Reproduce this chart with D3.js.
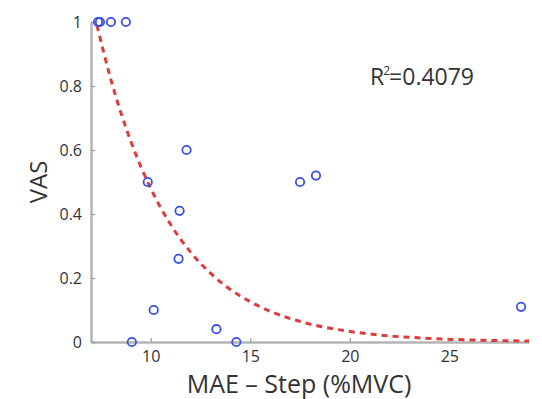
<!DOCTYPE html>
<html>
<head>
<meta charset="utf-8">
<script src="https://cdn.jsdelivr.net/npm/d3@7"></script>
<style>
  html, body { margin: 0; padding: 0; background: #fff; }
  svg { display: block; }
  text { font-family: "Open Sans", "Liberation Sans", sans-serif; }
</style>
</head>
<body>
<svg id="chart" width="542" height="399"></svg>
<script>
// Scatter data (MAE – Step %MVC vs VAS)
const maeValues = [7.35, 7.45, 8.0, 8.75, 11.8, 9.85, 11.45, 11.4, 10.15, 9.05, 13.3, 14.3, 17.5, 18.3, 28.6];
const vasValues = [1.0, 1.0, 1.0, 1.0, 0.6, 0.5, 0.41, 0.26, 0.10, 0.0, 0.04, 0.0, 0.5, 0.52, 0.11];

// Fitted curve
const fitX = [7.3, 8, 9, 10, 11, 12, 13, 14, 15, 16, 17, 18, 20, 22, 24, 26, 29];
const fitY = [0.99, 0.82, 0.627, 0.48, 0.367, 0.281, 0.215, 0.164, 0.126, 0.096, 0.0735, 0.056, 0.033, 0.019, 0.0113, 0.0066, 0.003];

const xTicks = [10, 15, 20, 25];
const yTicks = [0, 0.2, 0.4, 0.6, 0.8, 1];
const yTickLabels = ["0", "0.2", "0.4", "0.6", "0.8", "1"];
const r2Label = "0.4079";

const svg = d3.select("#chart");
const x = d3.scaleLinear().domain([7, 29]).range([91, 529]);
const y = d3.scaleLinear().domain([0, 1]).range([342, 22]);

const axisColor = "#b4b4b4";
const textColor = "#333333";

// Axes
const xAxis = svg.append("g").attr("transform", `translate(0,${y(0)})`)
  .call(d3.axisBottom(x).tickValues(xTicks).tickSizeInner(-4).tickSizeOuter(0).tickPadding(9));
const yAxis = svg.append("g").attr("transform", `translate(${x(7)},0)`)
  .call(d3.axisLeft(y).tickValues(yTicks).tickFormat((d, i) => yTickLabels[i]).tickSizeInner(-4).tickSizeOuter(0).tickPadding(9));

[xAxis, yAxis].forEach(g => {
  g.select(".domain").attr("stroke", axisColor).attr("stroke-width", 2.5);
  g.selectAll(".tick line").attr("stroke", "#999").attr("stroke-width", 1.2);
  g.selectAll(".tick text").attr("fill", textColor).attr("font-size", 16)
    .attr("font-family", "'Open Sans', sans-serif");
});
xAxis.selectAll(".tick text").attr("dy", "0.71em");

// Fitted dashed curve
const pts = fitX.map((v, i) => [v, fitY[i]]);
svg.append("path")
  .datum(pts)
  .attr("fill", "none")
  .attr("stroke", "#dd3c3c")
  .attr("stroke-width", 3)
  .attr("stroke-dasharray", "6,5")
  .attr("d", d3.line().x(d => x(d[0])).y(d => y(d[1])).curve(d3.curveMonotoneX));

// Points
svg.append("g").selectAll("circle")
  .data(maeValues.map((v, i) => [v, vasValues[i]]))
  .join("circle")
  .attr("cx", d => x(d[0]))
  .attr("cy", d => y(d[1]))
  .attr("r", 4.2)
  .attr("fill", "none")
  .attr("stroke", "#3b4fe6")
  .attr("stroke-width", 1.8);

// Axis labels
svg.append("text")
  .attr("x", 299).attr("y", 393)
  .attr("text-anchor", "middle")
  .attr("font-size", 25)
  .attr("fill", textColor)
  .text("MAE – Step (%MVC)");

svg.append("text")
  .attr("transform", "translate(47,182) rotate(-90)")
  .attr("text-anchor", "middle")
  .attr("font-size", 24)
  .attr("fill", textColor)
  .text("VAS");

// R² annotation
const r2 = svg.append("text")
  .attr("x", 370).attr("y", 85)
  .attr("font-size", 23)
  .attr("fill", textColor);
r2.append("tspan").text("R");
r2.append("tspan").attr("font-size", 12).attr("dy", -10).attr("dx", -1).text("2");
r2.append("tspan").attr("dy", 10).attr("dx", -1).text("=" + r2Label);
</script>
</body>
</html>
